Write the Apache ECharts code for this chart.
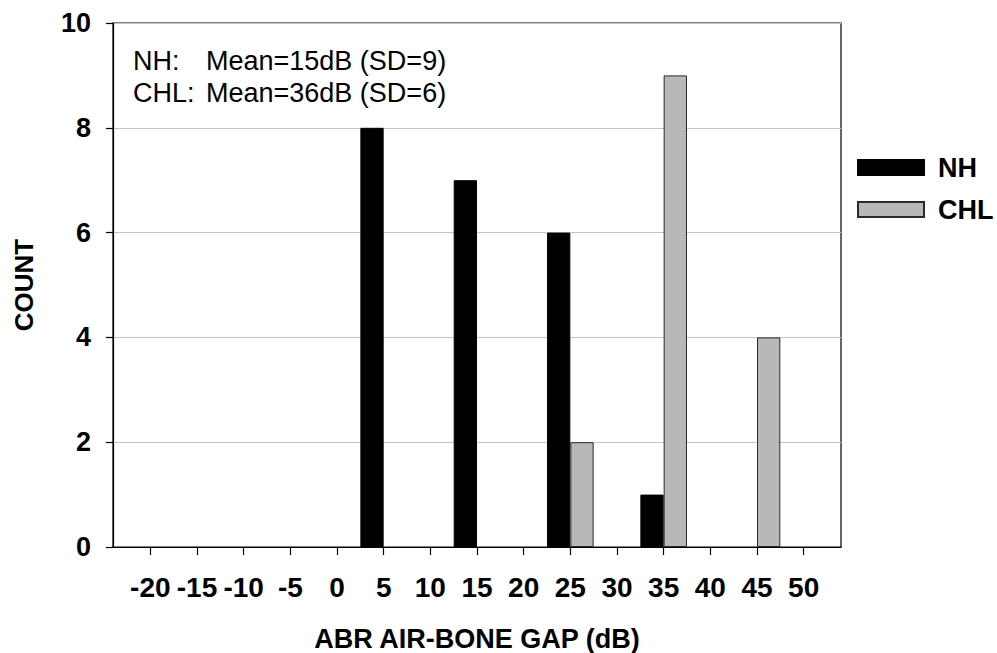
<!DOCTYPE html>
<html>
<head>
<meta charset="utf-8">
<script src="https://cdn.jsdelivr.net/npm/echarts@6/dist/echarts.min.js"></script>
<style>
  html, body { margin: 0; padding: 0; background: #fff; }
  #chart { width: 997px; height: 653px; }
</style>
</head>
<body>
<div id="chart"></div>
<script>
// ---- data ----
const seriesNames = ['NH', 'CHL'];
const gapBins = [5, 15, 25, 35, 45];          // dB (ABR air-bone gap bin)
const nhCounts = [8, 7, 6, 1, 0];
const chlCounts = [0, 0, 2, 9, 4];
const xTickValues = [-20, -15, -10, -5, 0, 5, 10, 15, 20, 25, 30, 35, 40, 45, 50];
const yTickValues = [0, 2, 4, 6, 8, 10];
const annotationLines = [
  ['NH:', 'Mean=15dB (SD=9)'],
  ['CHL:', 'Mean=36dB (SD=6)']
];
const xTitle = 'ABR AIR-BONE GAP (dB)';
const yTitle = 'COUNT';

const toPairs = (counts) => gapBins.map((b, i) => [b, counts[i]]).filter(p => p[1] > 0);

const FONT = 'Liberation Sans, Arial, sans-serif';
const chart = echarts.init(document.getElementById('chart'), null, { renderer: 'svg' });

chart.setOption({
  animation: false,
  backgroundColor: '#ffffff',
  grid: {
    left: 113, right: 156, top: 23, bottom: 106,
    containLabel: false,
    outerBoundsMode: 'none',
    show: true, borderColor: '#000', borderWidth: 1.2, backgroundColor: 'transparent'
  },
  legend: {
    orient: 'vertical',
    left: 857, top: 154,
    padding: 0,
    itemWidth: 66, itemHeight: 15, itemGap: 15,
    icon: 'rect',
    data: seriesNames,
    textStyle: { fontFamily: FONT, fontWeight: 'bold', fontSize: 27, color: '#000', padding: [0, 0, 0, 9] }
  },
  xAxis: {
    type: 'value',
    min: -24, max: 54,
    name: xTitle,
    nameLocation: 'middle',
    nameGap: 78,
    nameTextStyle: { fontFamily: FONT, fontWeight: 'bold', fontSize: 27, color: '#000' },
    axisLine: { show: true, onZero: false, lineStyle: { color: '#000', width: 1.2 } },
    axisTick: { show: true, length: 8, inside: false, customValues: xTickValues, lineStyle: { color: '#000', width: 1.2 } },
    axisLabel: { customValues: xTickValues, margin: 26, fontFamily: FONT, fontWeight: 'bold', fontSize: 28, color: '#000' },
    splitLine: { show: false }
  },
  yAxis: {
    type: 'value',
    min: 0, max: 10, interval: 2,
    name: yTitle,
    nameLocation: 'middle',
    nameGap: 76,
    nameTextStyle: { fontFamily: FONT, fontWeight: 'bold', fontSize: 26, color: '#000' },
    axisLine: { show: true, onZero: false, lineStyle: { color: '#000', width: 1.2 } },
    axisTick: { show: true, length: 7, lineStyle: { color: '#000', width: 1.2 } },
    axisLabel: { margin: 22, fontFamily: FONT, fontWeight: 'bold', fontSize: 27, color: '#000' },
    splitLine: { show: true, lineStyle: { color: '#c4c4c4', width: 1 } }
  },
  series: [
    {
      name: seriesNames[0],
      type: 'bar',
      barWidth: 23.3,
      barGap: '0%',
      data: toPairs(nhCounts),
      itemStyle: { color: '#000000', borderColor: '#000000', borderWidth: 1 }
    },
    {
      name: seriesNames[1],
      type: 'bar',
      barWidth: 23.3,
      barGap: '0%',
      data: toPairs(chlCounts),
      itemStyle: { color: '#b8b8b8', borderColor: '#2a2a2a', borderWidth: 1 }
    }
  ],
  graphic: annotationLines.map((ln, i) => ({
    type: 'text',
    left: 133,
    top: 47 + i * 32,
    style: {
      text: '{a|' + ln[0] + '}{b|' + ln[1] + '}',
      rich: {
        a: { width: 73, fontFamily: FONT, fontSize: 27, color: '#000' },
        b: { fontFamily: FONT, fontSize: 27, color: '#000' }
      }
    }
  }))
});
</script>
</body>
</html>
